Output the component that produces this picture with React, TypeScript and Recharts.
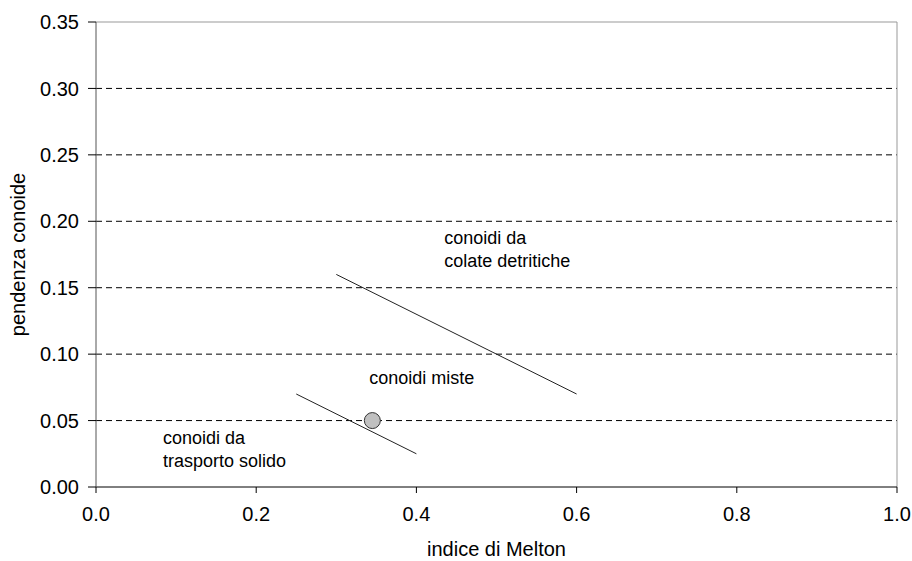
import React from "react";
import {
  ComposedChart,
  Scatter,
  XAxis,
  YAxis,
  ReferenceLine,
  ReferenceDot,
} from "recharts";

const xTicks = [0, 0.2, 0.4, 0.6, 0.8, 1.0];
const yTicks = [0, 0.05, 0.1, 0.15, 0.2, 0.25, 0.3, 0.35];
const gridValues = [0.05, 0.1, 0.15, 0.2, 0.25, 0.3];

const upperLine = [
  { x: 0.3, y: 0.16 },
  { x: 0.6, y: 0.07 },
];
const lowerLine = [
  { x: 0.25, y: 0.07 },
  { x: 0.4, y: 0.025 },
];
const samplePoint = [{ x: 0.345, y: 0.05 }];

const annotations = [
  { x: 0.4347, y: 0.1874, lines: ["conoidi da", "colate detritiche"] },
  { x: 0.341, y: 0.082, lines: ["conoidi miste"] },
  { x: 0.0837, y: 0.0369, lines: ["conoidi da", "trasporto solido"] },
];

const FONT = "'Liberation Sans', Arial, sans-serif";

const AnnText = (props: any) => {
  const { cx, cy, lines } = props;
  return (
    <text
      x={cx}
      y={cy}
      fontFamily={FONT}
      fontSize={18}
      fill="#000"
      textAnchor="start"
    >
      {lines.map((l: string, i: number) => (
        <tspan key={i} x={cx} dy={i === 0 ? 6 : 23}>
          {l}
        </tspan>
      ))}
    </text>
  );
};

const noShape = () => <g />;

export default function App() {
  return (
    <div style={{ position: "absolute", left: 0, top: 0, background: "#fff" }}>
      <ComposedChart
        width={912}
        height={561}
        margin={{ top: 22, right: 15, bottom: 0, left: 0 }}
      >
        <XAxis
          type="number"
          dataKey="x"
          domain={[0, 1]}
          ticks={xTicks}
          tickFormatter={(v: number) => v.toFixed(1)}
          height={74}
          stroke="#000"
          tick={{ fill: "#000", fontSize: 20, fontFamily: FONT }}
          tickLine={{ stroke: "#000" }}
          tickSize={6}
          tickMargin={14}
          allowDataOverflow
          label={{
            value: "indice di Melton",
            position: "insideBottom",
            offset: 5,
            fill: "#000",
            fontSize: 20,
            fontFamily: FONT,
          }}
        />
        <YAxis
          type="number"
          dataKey="y"
          domain={[0, 0.35]}
          ticks={yTicks}
          tickFormatter={(v: number) => v.toFixed(2)}
          width={96}
          stroke="#555"
          tick={{ fill: "#000", fontSize: 20, fontFamily: FONT }}
          tickLine={{ stroke: "#000" }}
          tickSize={8}
          tickMargin={9}
          allowDataOverflow
          label={{
            value: "pendenza conoide",
            angle: -90,
            position: "insideLeft",
            offset: 18,
            style: { textAnchor: "middle" },
            fill: "#000",
            fontSize: 20,
            fontFamily: FONT,
          }}
        />
        {gridValues.map((v) => (
          <ReferenceLine
            key={v}
            y={v}
            stroke="#000"
            strokeDasharray="6 4"
            strokeWidth={1}
          />
        ))}
        <ReferenceLine y={0.35} stroke="#999" strokeWidth={1} />
        <ReferenceLine x={1} stroke="#999" strokeWidth={1} />
        <Scatter
          data={upperLine}
          line={{ stroke: "#222", strokeWidth: 1 }}
          shape={noShape}
          isAnimationActive={false}
        />
        <Scatter
          data={lowerLine}
          line={{ stroke: "#222", strokeWidth: 1 }}
          shape={noShape}
          isAnimationActive={false}
        />
        <Scatter
          data={samplePoint}
          fill="#c0c0c0"
          shape={(p: any) => (
            <circle cx={p.cx} cy={p.cy} r={8} fill="#c0c0c0" stroke="#333" strokeWidth={1} />
          )}
          isAnimationActive={false}
        />
        {annotations.map((a, i) => (
          <ReferenceDot
            key={i}
            x={a.x}
            y={a.y}
            r={0}
            shape={(p: any) => <AnnText {...p} lines={a.lines} />}
          />
        ))}
      </ComposedChart>
    </div>
  );
}
